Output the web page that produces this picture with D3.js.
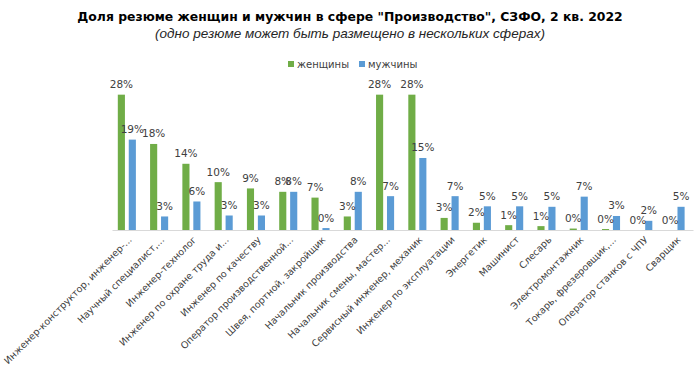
<!DOCTYPE html>
<html>
<head>
<meta charset="utf-8">
<script src="https://cdn.jsdelivr.net/npm/d3@7"></script>
<style>
  body { margin: 0; background: #fff; }
  text { font-family: "DejaVu Sans", sans-serif; }
</style>
</head>
<body>
<script>
var categories = [
    "Инженер-конструктор, инженер-...",
    "Научный специалист,...",
    "Инженер-технолог",
    "Инженер по охране труда и...",
    "Инженер по качеству",
    "Оператор производственной...",
    "Швея, портной, закройщик",
    "Начальник производства",
    "Начальник смены, мастер...",
    "Сервисный инженер, механик",
    "Инженер по эксплуатации",
    "Энергетик",
    "Машинист",
    "Слесарь",
    "Электромонтажник",
    "Токарь, фрезеровщик,...",
    "Оператор станков с ЧПУ",
    "Сварщик"
];
var women = [28, 17.8, 13.7, 9.9, 8.6, 7.9, 6.7, 2.8, 28, 28, 2.5, 1.5, 1.0, 0.8, 0.3, 0.2, 0, 0];
var men = [18.7, 2.8, 5.9, 3.0, 3.0, 7.9, 0.4, 7.9, 7.0, 14.9, 7.0, 4.9, 4.9, 4.8, 6.9, 2.9, 1.9, 4.8];
var seriesNames = ["женщины", "мужчины"];
var colors = ["#70ad47", "#5b9bd5"];

var w = 700, h = 372;

var svg = d3.select("body")
    .append("svg")
    .attr("width", w)
    .attr("height", h);

// titles
svg.append("text")
    .attr("x", 350).attr("y", 21)
    .attr("text-anchor", "middle")
    .style("font-weight", "bold")
    .style("font-size", "12.4px")
    .attr("fill", "#000")
    .text("Доля резюме женщин и мужчин в сфере \"Производство\", СЗФО, 2 кв. 2022");

svg.append("text")
    .attr("x", 350).attr("y", 37.5)
    .attr("text-anchor", "middle")
    .style("font-family", "Liberation Sans, sans-serif")
    .style("font-style", "italic")
    .style("font-size", "13.5px")
    .attr("fill", "#262626")
    .text("(одно резюме может быть размещено в нескольких сферах)");

// scales
var x = d3.scaleBand().domain(categories).range([112, 693]);
var bw = x.bandwidth();
var x1 = d3.scaleBand().domain(seriesNames).range([bw * 0.18, bw * 0.74]).paddingInner(0.35);
var y = d3.scaleLinear().domain([0, 30]).range([230, 85]);

var rows = categories.map(function (c, i) {
    return { cat: c, vals: [women[i], men[i]] };
});

var groups = svg.selectAll("g.grp")
    .data(rows)
    .enter()
    .append("g")
    .attr("class", "grp")
    .attr("transform", function (d) { return "translate(" + x(d.cat) + ",0)"; });

groups.selectAll("rect")
    .data(function (d) { return d.vals.map(function (v, j) { return { s: seriesNames[j], v: v, j: j }; }); })
    .enter()
    .append("rect")
    .attr("x", function (d) { return x1(d.s); })
    .attr("width", x1.bandwidth())
    .attr("y", function (d) { return y(d.v); })
    .attr("height", function (d) { return y(0) - y(d.v); })
    .attr("fill", function (d) { return colors[d.j]; });

groups.selectAll("text.lbl")
    .data(function (d) { return d.vals.map(function (v, j) { return { s: seriesNames[j], v: v, j: j }; }); })
    .enter()
    .append("text")
    .attr("class", "lbl")
    .attr("x", function (d) { return x1(d.s) + x1.bandwidth() / 2; })
    .attr("y", function (d) { return y(d.v) - 6.5; })
    .attr("text-anchor", "middle")
    .style("font-size", "10.5px")
    .attr("fill", "#404040")
    .text(function (d) { return Math.round(d.v) + "%"; });

// x axis
var xAxis = svg.append("g")
    .attr("transform", "translate(0," + y(0) + ")")
    .call(d3.axisBottom(x).tickSize(0).tickFormat(""));
xAxis.select(".domain").attr("stroke", "#d9d9d9");

svg.selectAll("text.cat")
    .data(categories)
    .enter()
    .append("text")
    .attr("class", "cat")
    .attr("text-anchor", "end")
    .attr("transform", function (d) {
        return "translate(" + (x(d) + bw / 2 + 2) + "," + (y(0) + 8) + ") rotate(-45)";
    })
    .attr("dy", "0.35em")
    .style("font-size", "9.5px")
    .attr("fill", "#404040")
    .text(function (d) { return d; });

// legend
var legend = svg.append("g").attr("transform", "translate(288,64)");
var lx = [0, 71];
seriesNames.forEach(function (s, i) {
    legend.append("rect")
        .attr("x", lx[i]).attr("y", -3)
        .attr("width", 6).attr("height", 6)
        .attr("fill", colors[i]);
    legend.append("text")
        .attr("x", lx[i] + 9).attr("y", 0)
        .attr("dy", "0.35em")
        .style("font-size", "10px")
        .attr("fill", "#404040")
        .text(s);
});
</script>
</body>
</html>
